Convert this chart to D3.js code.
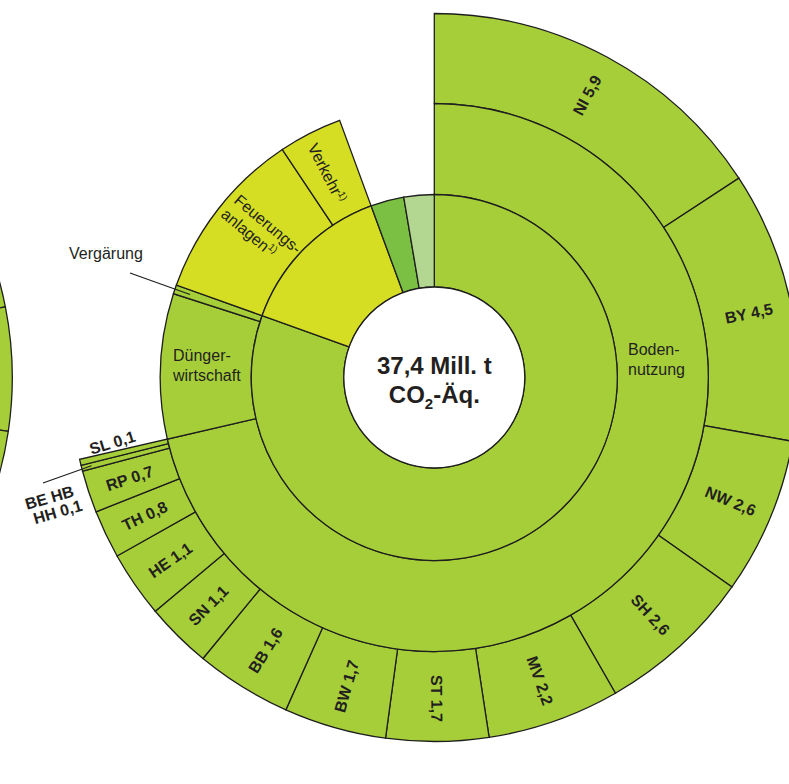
<!DOCTYPE html>
<html>
<head>
<meta charset="utf-8">
<script src="https://cdn.jsdelivr.net/npm/d3@7"></script>
<style>
  body { margin: 0; background: #fff; }
  svg { display: block; font-family: "Liberation Sans", Arial, sans-serif; }
</style>
</head>
<body>
<div id="chart-area"></div>
<script>
// Emissionen in Mill. t CO2-Äq.
var gesamt = 37.4;

// innerer Ring
var ring1Namen = ["Landwirtschaft", "Energie", "Sonstige A", "Sonstige B"];
var ring1Werte = [30.1, 5.2, 1.1, 1.0];
var ring1Farben = ["#a6ce39", "#d6de23", "#7bbf43", "#b3d690"];

// mittlerer Ring
var ring2Namen = ["Bodennutzung", "Düngerwirtschaft", "Vergärung", "Feuerungsanlagen", "Verkehr"];
var ring2Werte = [26.7, 3.2, 0.2, 3.8, 1.4];
var ring2Farben = ["#a6ce39", "#a6ce39", "#a6ce39", "#d6de23", "#d6de23"];

// äußerer Ring: Bodennutzung nach Ländern
var laender = ["NI", "BY", "NW", "SH", "MV", "ST", "BW", "BB", "SN", "HE", "TH", "RP", "BE HB HH", "SL"];
var laenderWerte = [5.9, 4.5, 2.6, 2.6, 2.2, 1.7, 1.7, 1.6, 1.1, 1.1, 0.8, 0.7, 0.1, 0.1];

var width = 789, height = 784;
var cx = 434.3, cy = 377.5;
var r0 = 90.5, r1 = 183, r2 = 274, r3 = 364;
var linie = "#1e1e1e", textFarbe = "#231f20";

var fmt = d3.formatLocale({decimal: ",", thousands: ".", grouping: [3], currency: ["", "€"]}).format(".1f");

var winkel = d3.scaleLinear().domain([0, gesamt]).range([0, 2 * Math.PI]);

function segmente(werte) {
    var s = 0;
    return werte.map((v, i) => {
        var seg = {i: i, value: v, startAngle: winkel(s), endAngle: winkel(s + v)};
        s += v;
        return seg;
    });
}

function mitte(seg) {
    return (seg.startAngle + seg.endAngle) / 2;
}

function punkt(a, r) {
    return [Math.sin(a) * r, -Math.cos(a) * r];
}

// Text radial ausrichten, links gedreht damit er lesbar bleibt
function radial(seg, r) {
    var a = mitte(seg);
    var deg = a * 180 / Math.PI;
    var p = punkt(a, r);
    var rot = deg < 180 ? deg - 90 : deg - 270;
    return "translate(" + p[0] + "," + p[1] + ") rotate(" + rot + ")";
}

var svg = d3.select("#chart-area")
    .append("svg")
    .attr("width", width)
    .attr("height", height);

// angeschnittenes Nachbardiagramm am linken Rand
var nachbar = svg.append("g").attr("transform", "translate(" + (cx - 786) + "," + cy + ")");
var nachbarGrenzen = [0, 78.8, 98.5, 180];
nachbar.selectAll("path")
    .data(d3.pairs(nachbarGrenzen))
    .enter()
    .append("path")
        .attr("d", (d) => d3.arc()({innerRadius: r2, outerRadius: r3,
            startAngle: d[0] * Math.PI / 180, endAngle: d[1] * Math.PI / 180}))
        .attr("fill", "#a6ce39")
        .attr("stroke", linie)
        .attr("stroke-width", 1.3);

var g = svg.append("g").attr("transform", "translate(" + cx + "," + cy + ")");

var seg1 = segmente(ring1Werte);
var seg2 = segmente(ring2Werte);
var seg3 = segmente(laenderWerte);

var arc3 = d3.arc().innerRadius(r2).outerRadius(r3);
var arc2 = d3.arc().innerRadius(r1).outerRadius(r2);
var arc1 = d3.arc().innerRadius(r0).outerRadius(r1);

g.selectAll(".ring3").data(seg3).enter()
    .append("path")
        .attr("class", "ring3")
        .attr("d", arc3)
        .attr("fill", "#a6ce39")
        .attr("stroke", linie)
        .attr("stroke-width", 1.3);

g.selectAll(".ring2").data(seg2).enter()
    .append("path")
        .attr("class", "ring2")
        .attr("d", arc2)
        .attr("fill", (d) => ring2Farben[d.i])
        .attr("stroke", linie)
        .attr("stroke-width", 1.3);

g.selectAll(".ring1").data(seg1).enter()
    .append("path")
        .attr("class", "ring1")
        .attr("d", arc1)
        .attr("fill", (d) => ring1Farben[d.i])
        .attr("stroke", linie)
        .attr("stroke-width", 1.3);

g.append("circle")
    .attr("r", r0)
    .attr("fill", "#fff")
    .attr("stroke", linie)
    .attr("stroke-width", 1.3);

// Mitte
var mitteText = g.append("text")
    .attr("text-anchor", "middle")
    .attr("font-weight", "bold")
    .attr("font-size", 24)
    .attr("fill", textFarbe);
mitteText.append("tspan").attr("x", 0).attr("y", -3.5).text("37,4 Mill. t");
var zeile2 = mitteText.append("tspan").attr("x", 0).attr("y", 25.5);
zeile2.append("tspan").text("CO");
zeile2.append("tspan").attr("font-size", 15).attr("dy", 6).text("2");
zeile2.append("tspan").attr("dy", -6).text("-Äq.");

// Länder im äußeren Ring
g.selectAll(".land").data(seg3.filter((d) => laenderWerte[d.i] >= 0.5)).enter()
    .append("text")
        .attr("class", "land")
        .attr("transform", (d) => radial(d, 321))
        .attr("text-anchor", "middle")
        .attr("dy", "0.36em")
        .attr("font-weight", "bold")
        .attr("font-size", 16)
        .attr("fill", textFarbe)
        .text((d) => laender[d.i] + " " + fmt(laenderWerte[d.i]));

// kleine Länder außerhalb
var slSeg = seg3[laender.indexOf("SL")];
var stadtSeg = seg3[laender.indexOf("BE HB HH")];

svg.append("text")
    .attr("transform", "translate(114,448) rotate(-17)")
    .attr("text-anchor", "middle")
    .attr("font-weight", "bold")
    .attr("font-size", 16)
    .attr("fill", textFarbe)
    .text(laender[slSeg.i] + " " + fmt(laenderWerte[slSeg.i]));

var stadtText = svg.append("text")
    .attr("transform", "translate(51,503) rotate(-16)")
    .attr("text-anchor", "middle")
    .attr("font-weight", "bold")
    .attr("font-size", 16)
    .attr("fill", textFarbe);
stadtText.append("tspan").attr("x", 0).attr("y", 0).text("BE HB");
stadtText.append("tspan").attr("x", 4).attr("y", 16).text("HH " + fmt(laenderWerte[stadtSeg.i]));

var stadtEnde = punkt(mitte(stadtSeg), 354);
svg.append("line")
    .attr("x1", 43).attr("y1", 483)
    .attr("x2", cx + stadtEnde[0]).attr("y2", cy + stadtEnde[1])
    .attr("stroke", linie)
    .attr("stroke-width", 1.2);

// Beschriftung mittlerer Ring
function zweiZeilen(x, y, z1, z2, abstand) {
    var t = svg.append("text")
        .attr("font-size", 16)
        .attr("fill", textFarbe);
    t.append("tspan").attr("x", x).attr("y", y).text(z1);
    t.append("tspan").attr("x", x).attr("y", y + abstand).text(z2);
    return t;
}

zweiZeilen(628, 355, "Boden-", "nutzung", 20);
zweiZeilen(173, 361, "Dünger-", "wirtschaft", 20);

var feuer = svg.append("text")
    .attr("transform", "translate(233,202) rotate(40)")
    .attr("font-size", 16)
    .attr("fill", textFarbe);
feuer.append("tspan").attr("x", 0).attr("y", 0).text("Feuerungs-");
feuer.append("tspan").attr("x", -1).attr("y", 19).text("anlagen");
feuer.append("tspan").attr("font-size", 10).attr("dy", -6).text("1)");

var verkehr = svg.append("text")
    .attr("transform", "translate(327,173) " + "rotate(" + (mitte(seg2[4]) * 180 / Math.PI - 270) + ")")
    .attr("text-anchor", "middle")
    .attr("dy", "0.36em")
    .attr("font-size", 16)
    .attr("fill", textFarbe);
verkehr.append("tspan").text("Verkehr");
verkehr.append("tspan").attr("font-size", 10).attr("dy", -6).text("1)");

svg.append("text")
    .attr("x", 69).attr("y", 259)
    .attr("font-size", 16)
    .attr("fill", textFarbe)
    .text(ring2Namen[2]);

var vergEnde = punkt(mitte(seg2[2]), 258);
svg.append("line")
    .attr("x1", 130).attr("y1", 273)
    .attr("x2", cx + vergEnde[0]).attr("y2", cy + vergEnde[1])
    .attr("stroke", linie)
    .attr("stroke-width", 1.2);
</script>
</body>
</html>
